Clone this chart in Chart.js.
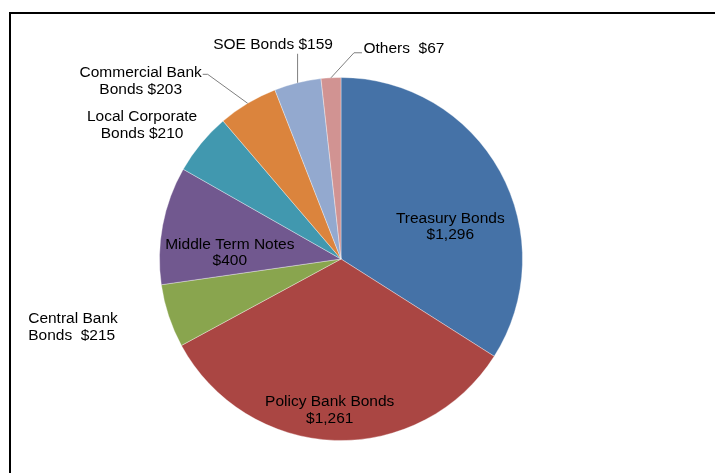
<!DOCTYPE html>
<html>
<head>
<meta charset="utf-8">
<script src="https://cdn.jsdelivr.net/npm/chart.js@4"></script>
<style>
  html, body { margin: 0; padding: 0; background: #fff; }
  #wrap { width: 715px; height: 473px; }
</style>
</head>
<body>
<div id="wrap"><canvas id="pie" width="715" height="473"></canvas></div>
<script>
// Bond market breakdown (values in $bn)
const categories = [
  'Treasury Bonds', 'Policy Bank Bonds', 'Central Bank Bonds', 'Middle Term Notes',
  'Local Corporate Bonds', 'Commercial Bank Bonds', 'SOE Bonds', 'Others'
];
const values = [1296, 1261, 215, 400, 210, 203, 159, 67];
const labelLines = [
  ['Treasury Bonds', '$1,296'],
  ['Policy Bank Bonds', '$1,261'],
  ['Central Bank', 'Bonds  $215'],
  ['Middle Term Notes', '$400'],
  ['Local Corporate', 'Bonds $210'],
  ['Commercial Bank', 'Bonds $203'],
  ['SOE Bonds $159'],
  ['Others  $67']
];
const sliceColors = ['#4572A7', '#AA4643', '#89A54E', '#71588F', '#4198AF', '#DB843D', '#93A9CF', '#D19392'];

// label placement: anchor at fraction f of radius on the slice mid angle, then offset
const labelLayout = [
  { f: 0.64, dx: 7.5, dy: 23.5, align: 'center' },
  { f: 0.84, dx: -6, dy: -1, align: 'center' },
  { f: 1, dx: -140.5, dy: 11, align: 'left' },
  { f: 0.66, dx: 6.5, dy: 16, align: 'center' },
  { f: 1, dx: -59, dy: -18, align: 'center' },
  { f: 1, dx: -107, dy: -22, align: 'center', leader: [[-40, -29], [-45, -29]] },
  { f: 1, dx: -24.5, dy: -38, align: 'center', leader: [[0, -29]] },
  { f: 1, dx: 32.5, dy: -29, align: 'left', leader: [[23, -25], [31, -25]] }
];

const frame = {
  id: 'frame',
  beforeDraw(chart) {
    const ctx = chart.ctx;
    ctx.save();
    ctx.fillStyle = '#fff';
    ctx.fillRect(0, 0, chart.width, chart.height);
    ctx.strokeStyle = '#000';
    ctx.lineWidth = 2;
    ctx.strokeRect(10, 13, 720, 480);
    ctx.restore();
  }
};

const sliceLabels = {
  id: 'sliceLabels',
  afterDatasetsDraw(chart) {
    const ctx = chart.ctx;
    const arcs = chart.getDatasetMeta(0).data;
    ctx.save();
    ctx.font = '15.5px "Liberation Sans", Arial, sans-serif';
    ctx.fillStyle = '#000';
    ctx.textBaseline = 'middle';
    arcs.forEach((arc, i) => {
      const spec = labelLayout[i];
      const mid = (arc.startAngle + arc.endAngle) / 2;
      const r = arc.outerRadius * spec.f;
      const ax = arc.x + Math.cos(mid) * r;
      const ay = arc.y + Math.sin(mid) * r;

      if (spec.leader) {
        ctx.strokeStyle = '#7f7f7f';
        ctx.lineWidth = 1;
        ctx.beginPath();
        ctx.moveTo(ax, ay);
        spec.leader.forEach(([lx, ly]) => ctx.lineTo(ax + lx, ay + ly));
        ctx.stroke();
      }

      const lines = labelLines[i];
      const lh = 16.5;
      const y0 = ay + spec.dy - (lines.length - 1) * lh / 2;
      ctx.textAlign = spec.align;
      lines.forEach((t, k) => ctx.fillText(t, ax + spec.dx, y0 + k * lh));
    });
    ctx.restore();
  }
};

new Chart(document.getElementById('pie'), {
  type: 'pie',
  data: {
    labels: categories,
    datasets: [{
      data: values,
      backgroundColor: sliceColors,
      borderColor: 'rgba(255,255,255,0.35)',
      borderWidth: 1
    }]
  },
  options: {
    responsive: false,
    animation: false,
    layout: { padding: { left: 159, right: 192, top: 77, bottom: 32 } },
    plugins: {
      legend: { display: false },
      tooltip: { enabled: false }
    }
  },
  plugins: [frame, sliceLabels]
});
</script>
</body>
</html>
